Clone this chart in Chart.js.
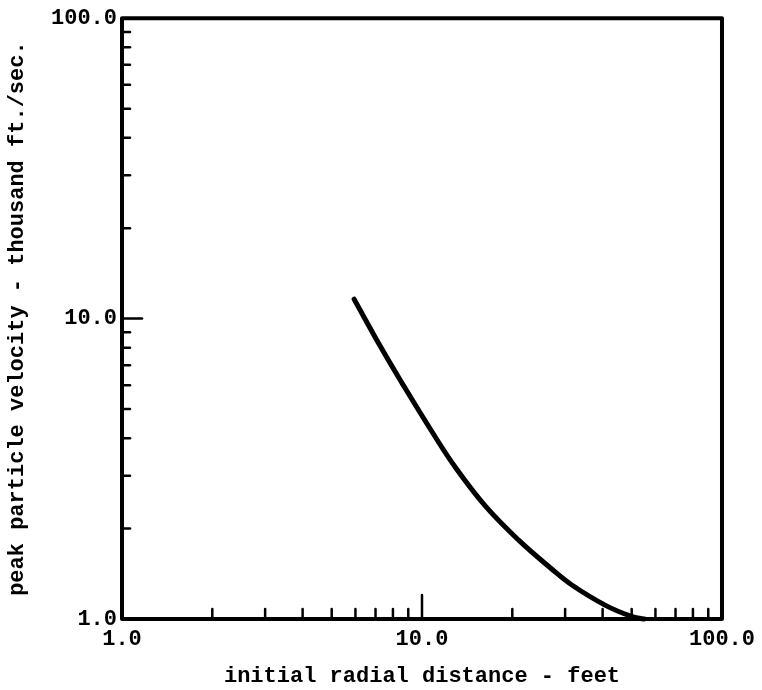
<!DOCTYPE html>
<html>
<head>
<meta charset="utf-8">
<script src="https://cdn.jsdelivr.net/npm/chart.js@4/dist/chart.umd.min.js"></script>
<style>
html,body{margin:0;padding:0;background:#fff;}
#wrap{width:762px;height:690px;position:relative;}
</style>
</head>
<body>
<div id="wrap"><canvas id="c" width="762" height="690"></canvas></div>
<script>
// Data
const distanceFt = [5.94, 7.36, 8.58, 10.8, 12.97, 16.3, 21.0, 27.0, 31.5, 40.9, 49.9, 55.0];
const velocityKfps = [11.6, 7.9, 6.1, 4.2, 3.18, 2.37, 1.83, 1.47, 1.30, 1.11, 1.02, 1.0];
const majorTicks = [1, 10, 100];
const minorTicks = [2, 3, 4, 5, 6, 7, 8, 9, 20, 30, 40, 50, 60, 70, 80, 90];
const xTickLabels = {1: '1.0', 10: '10.0', 100: '100.0'};
const yTickLabels = {1: '1.0', 10: '10.0', 100: '100.0'};
const xTitle = 'initial radial distance - feet';
const yTitle = 'peak particle velocity - thousand ft./sec.';

const FONT = '"Liberation Mono", "DejaVu Sans Mono", monospace';
const allTicks = majorTicks.concat(minorTicks).sort((a,b)=>a-b);

const framePlugin = {
  id: 'frame',
  afterDatasetsDraw(chart) {
    const ctx = chart.ctx, a = chart.chartArea;
    const xs = chart.scales.x, ys = chart.scales.y;
    ctx.save();
    ctx.strokeStyle = '#000';
    ctx.lineCap = 'round';
    ctx.lineWidth = 2.5;
    allTicks.forEach(v => {
      const px = xs.getPixelForValue(v);
      const len = (v === 10) ? 24 : (majorTicks.includes(v) ? 0 : 10);
      if (len) { ctx.beginPath(); ctx.moveTo(px, a.bottom); ctx.lineTo(px, a.bottom - len); ctx.stroke(); }
    });
    allTicks.forEach(v => {
      const py = ys.getPixelForValue(v);
      const len = (v === 10) ? 20 : (majorTicks.includes(v) ? 0 : 8);
      if (len) { ctx.beginPath(); ctx.moveTo(a.left, py); ctx.lineTo(a.left + len, py); ctx.stroke(); }
    });
    ctx.lineWidth = 4;
    ctx.lineJoin = 'round';
    ctx.strokeRect(a.left, a.top, a.right - a.left, a.bottom - a.top);
    ctx.restore();
  }
};

new Chart(document.getElementById('c'), {
  type: 'line',
  data: {
    datasets: [{
      data: distanceFt.map((d, i) => ({x: d, y: velocityKfps[i]})),
      borderColor: '#000',
      borderWidth: 5,
      pointRadius: 0,
      tension: 0.4,
      borderCapStyle: 'round',
      fill: false,
      clip: false
    }]
  },
  options: {
    responsive: false,
    animation: false,
    devicePixelRatio: 1,
    layout: {padding: {left: 0, right: 39, top: 16, bottom: 0}},
    plugins: {legend: {display: false}, tooltip: {enabled: false}},
    scales: {
      x: {
        type: 'logarithmic',
        min: 1, max: 100,
        afterBuildTicks: s => { s.ticks = majorTicks.map(v => ({value: v})); },
        afterFit: s => { s.height = 71; },
        grid: {display: false, drawTicks: false},
        border: {display: false},
        ticks: {
          autoSkip: false, maxRotation: 0,
          padding: 7,
          color: '#000',
          font: {family: FONT, size: 22, weight: 'bold'},
          callback: v => xTickLabels[v] || ''
        },
        title: {display: true, text: xTitle, color: '#000',
          font: {family: FONT, size: 22, weight: 'bold'}, padding: {top: 4, bottom: 0}}
      },
      y: {
        type: 'logarithmic',
        min: 1, max: 100,
        afterBuildTicks: s => { s.ticks = majorTicks.map(v => ({value: v})); },
        afterFit: s => { s.width = 122; },
        grid: {display: false, drawTicks: false},
        border: {display: false},
        ticks: {
          autoSkip: false,
          padding: 5,
          color: '#000',
          font: {family: FONT, size: 22, weight: 'bold'},
          callback: v => yTickLabels[v] || ''
        },
        title: {display: true, text: yTitle, color: '#000',
          font: {family: FONT, size: 22, weight: 'bold'}, padding: {top: 4, bottom: 0}}
      }
    }
  },
  plugins: [framePlugin]
});
</script>
</body>
</html>
